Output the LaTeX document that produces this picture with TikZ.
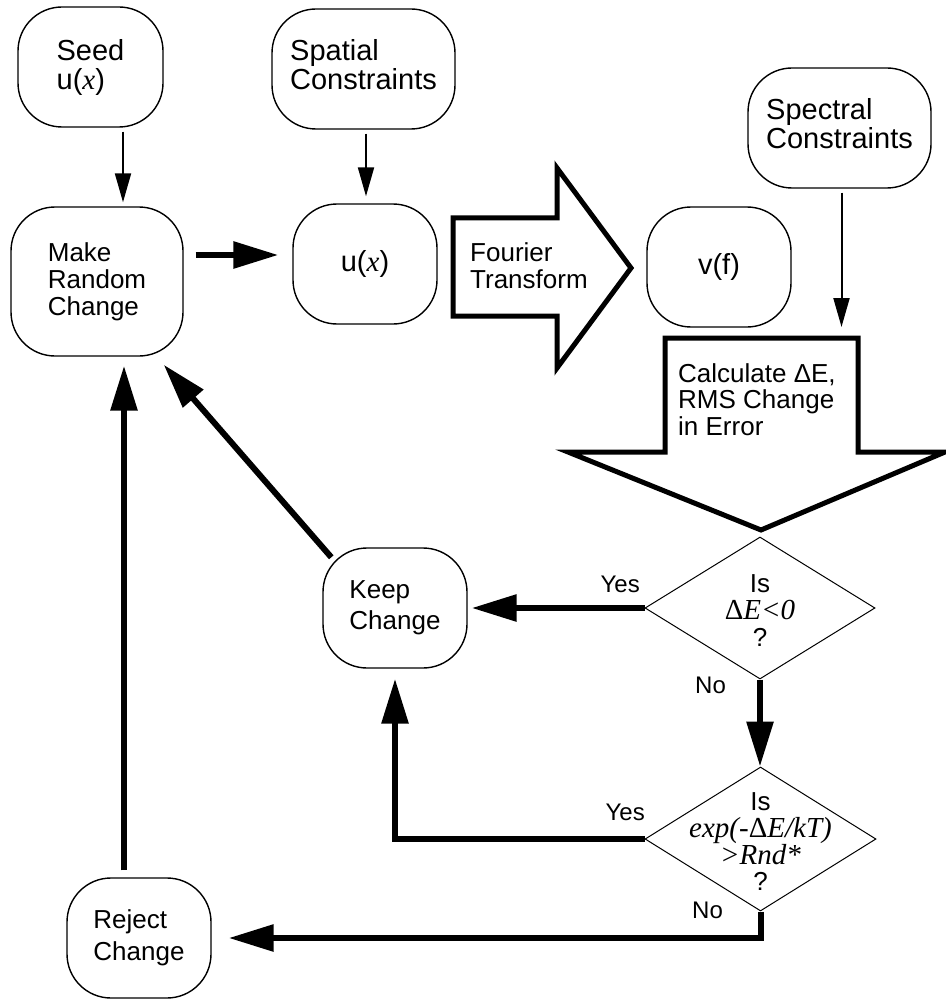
\documentclass[tikz,border=0pt]{standalone}
\usepackage{fontspec}
\setmainfont{Liberation Sans}
\newfontfamily\tmsfont{Liberation Serif}
\usetikzlibrary{arrows.meta,shapes.geometric,calc}
\newcommand\setfs[2]{\fontsize{#1}{#2}\selectfont\lineskiplimit=-100pt\relax}
\newcommand\serit[1]{{\tmsfont\itshape #1}}
\newcommand\sermath[1]{{\tmsfont\fontsize{29}{26.5}\selectfont #1}}
\begin{document}
\begin{tikzpicture}[x=1pt,y=-1pt,
  rbox/.style={draw, line width=1.4pt, rounded corners=44pt, inner sep=0pt, align=left},
  big/.style={font=\setfs{29}{29}},
  mid/.style={font=\setfs{26}{27}},
  thinarrow/.style={line width=2pt, -{Triangle[length=29pt,width=16pt]}},
  thickarrow/.style={line width=6pt, -{Triangle[length=45pt,width=26pt]}},
  blockarrow/.style={draw, line width=5pt, miter limit=10},
  decision/.style={draw, diamond, line width=1pt, inner sep=0pt},
  lbl/.style={font=\setfs{24}{24}, inner sep=0pt},
  txt/.style={inner sep=0pt}]
\path[use as bounding box, fill=white] (0,0) rectangle (945,1000);

% rounded boxes
\node[rbox, big, minimum width=145pt, minimum height=120pt] (seed) at (90.5,67) {Seed\\u(\serit{x})};
\node[rbox, big, minimum width=183pt, minimum height=120pt, text depth=10pt] (spatial) at (363.5,69) {Spatial\\Constraints};
\node[rbox, mid, minimum width=172pt, minimum height=149pt] (make) at (97,281.5) {Make\\Random\\Change};
\node[rbox, big, minimum width=144pt, minimum height=120pt] (ux) at (365,264) {u(\serit{x})};
\node[rbox, big, minimum width=144pt, minimum height=120pt] (vf) at (719,267) {v(f)};
\node[rbox, big, minimum width=183pt, minimum height=120pt, text depth=10pt] (spectral) at (839.5,128) {Spectral\\Constraints};
\node[rbox, font=\setfs{26}{31}, minimum width=144pt, minimum height=120pt] (keep) at (395,608) {Keep\\Change};
\node[rbox, font=\setfs{26}{32}, minimum width=144pt, minimum height=120pt] (reject) at (139,938) {Reject\\Change};

% decisions
\node[decision, minimum width=230pt, minimum height=142pt] (d1) at (760,608) {};
\node[decision, minimum width=231pt, minimum height=144pt] (d2) at (760.5,839) {};
\node[txt, align=center, font=\setfs{26}{27}] (d1text) at (760,611) {Is\\\sermath{Δ\itshape E<0}\\?};
\node[txt, align=center, font=\setfs{26}{26.5}] (d2text) at (760.5,842) {Is\\\sermath{\itshape exp(-{\upshape Δ}E/kT)}\\[0.5pt]\sermath{\itshape >Rnd*}\\?};

% block arrows
\draw[blockarrow] (453,218) -- (557,218) -- (557,168) -- (631,268) -- (557,368) -- (557,316) -- (453,316) -- cycle;
\node[txt, align=left, anchor=north west, font=\setfs{26}{27}] (fourier) at (470,242.4) {Fourier\\Transform};
\draw[blockarrow] (665,338) -- (858,338) -- (858,452) -- (945,452) -- (761,530) -- (568,452) -- (665,452) -- cycle;
\coordinate (calctop) at (841.5,338);
\node[txt, align=left, anchor=north west, font=\setfs{26}{26.5}] (calc) at (678,363.4) {Calculate ΔE,\\RMS Change\\in Error};

% connectors
\draw[thinarrow] ($(seed.south)+(32.5,4)$) -- ($(make.north)+(26,-4)$);
\draw[thinarrow] ($(spatial.south)+(2.5,4)$) -- ($(ux.north)+(1,-7)$);
\draw[thinarrow] ($(spectral.south)+(2,4)$) -- ($(calctop)+(0,-11)$);
\draw[thickarrow] ($(make.east)+(12,-26.5)$) -- ($(ux.west)+(-14,-9)$);
\draw[thickarrow] ($(keep.north west)+(9,10)$) -- ($(make.south east)+(-20,8)$);
\draw[thickarrow] (d1.west) -- ($(keep.east)+(4,0)$);
\draw[thickarrow] (d1.south) -- (d1.south |- d2.north);
\draw[thickarrow] (d2.west) -| ($(keep.south)+(0,10)$);
\draw[thickarrow] (d2.south) |- ($(reject.east)+(17,0)$);
\draw[thickarrow] ($(reject.north)+(-15,-7)$) -- ($(make.south)+(27,9)$);

% labels
\node[lbl, anchor=base east] (yes1) at (640,592) {Yes};
\node[lbl, anchor=base east] (yes2) at (645,820) {Yes};
\node[lbl, anchor=base west] (no1) at (695,693) {No};
\node[lbl, anchor=base west] (no2) at (692,918) {No};
\end{tikzpicture}
\end{document}
